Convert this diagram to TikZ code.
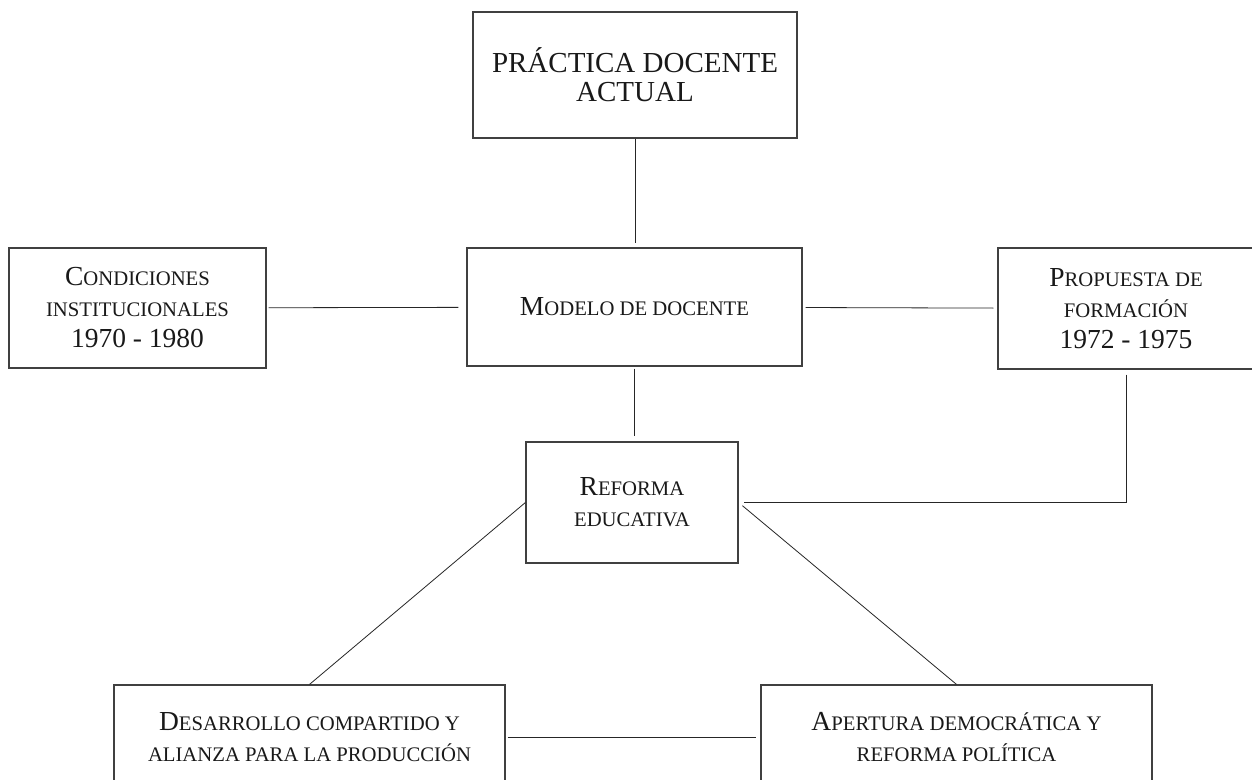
\documentclass[tikz,border=0pt]{standalone}
\usepackage{fontspec}
\setmainfont{Liberation Serif}
\newcommand{\smc}{\fontsize{20.7}{31}\selectfont}
\begin{document}
\begin{tikzpicture}[x=1pt,y=-1pt,
  box/.style={draw=black!75, line width=1.2pt, rectangle, inner sep=0pt, align=center, text=black!90, font=\fontsize{27.5}{31}\selectfont},
  link/.style={draw=black!85, line width=0.8pt}]
\clip (0,0) rectangle (1252,779);
\fill[white] (0,0) rectangle (1252,779);
\node[box, minimum width=324pt, minimum height=126pt, font=\fontsize{29}{29}\selectfont] (top) at (635,75) {PRÁCTICA DOCENTE\\ACTUAL};
\node[box, minimum width=257pt, minimum height=120pt] (cond) at (137.5,308) {C{\smc ONDICIONES}\\{\smc INSTITUCIONALES}\\1970 - 1980};
\node[box, minimum width=335pt, minimum height=118pt] (modelo) at (634.5,307) {M{\smc ODELO DE DOCENTE}};
\node[box, minimum width=256pt, minimum height=121pt] (prop) at (1126,308.5) {P{\smc ROPUESTA DE}\\{\smc FORMACIÓN}\\1972 - 1975};
\node[box, minimum width=212pt, minimum height=121pt] (reforma) at (632,502.5) {R{\smc EFORMA}\\{\smc EDUCATIVA}};
\node[box, minimum width=391pt, minimum height=105pt] (bl) at (309.5,737.5) {D{\smc ESARROLLO COMPARTIDO Y}\\{\smc ALIANZA PARA LA PRODUCCIÓN}};
\node[box, minimum width=391pt, minimum height=105pt] (br) at (956.5,737.5) {A{\smc PERTURA DEMOCRÁTICA Y}\\{\smc REFORMA POLÍTICA}};
\draw[link, shorten >=4pt] (top.south) -- (top.south |- modelo.north);
\draw[link, shorten <=2pt, shorten >=8pt] (cond) -- (modelo);
\draw[link, shorten <=3pt, shorten >=4pt] (modelo) -- (prop);
\draw[link, shorten <=2pt, shorten >=5pt] (modelo.south) -- (modelo.south |- reforma.north);
\draw[link, shorten <=5pt, shorten >=5pt] (prop.south) |- (reforma.east);
\draw[link] (reforma.west) -- (bl.north);
\draw[link, shorten <=5pt] (reforma.east) -- (br.north);
\draw[link, shorten <=2pt, shorten >=4pt] (bl) -- (br);
\end{tikzpicture}
\end{document}
